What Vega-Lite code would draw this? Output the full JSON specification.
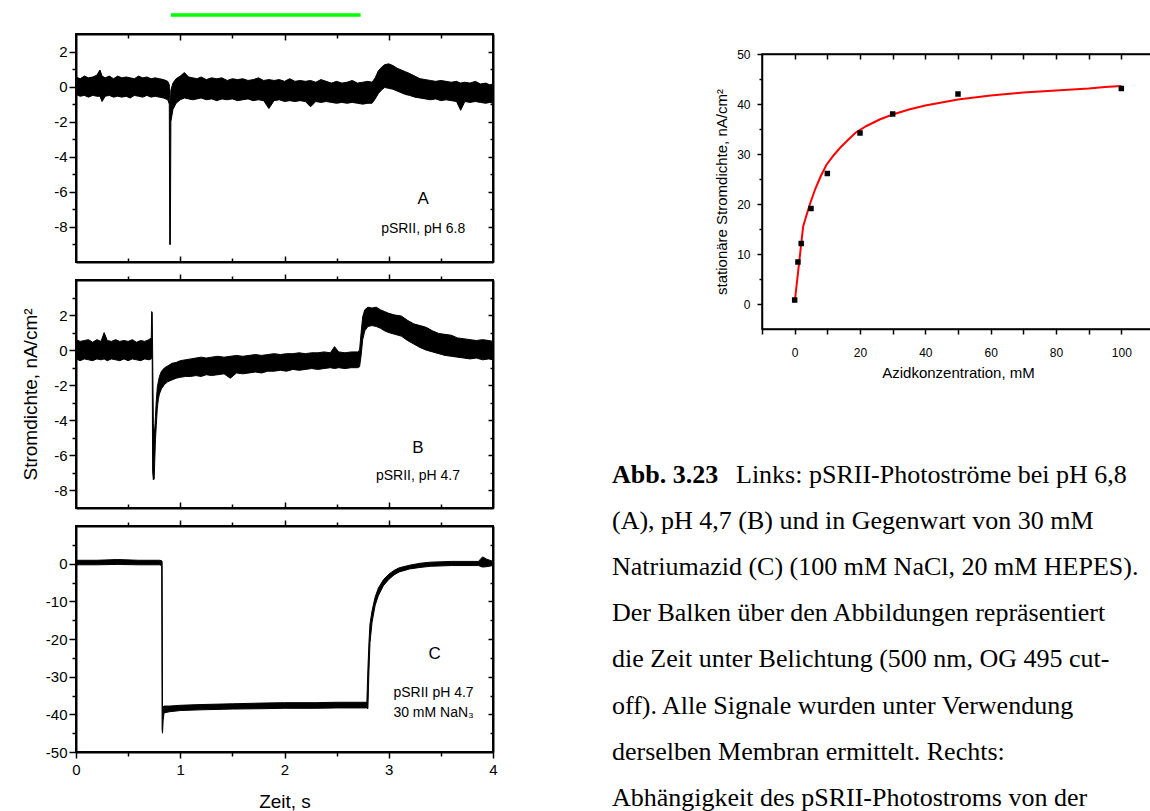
{
  "$schema": "https://vega.github.io/schema/vega-lite/v6.json",
  "background": "white",
  "padding": {"left": 19, "top": 12, "right": 0, "bottom": 0},
  "config": {
    "font": "Liberation Sans",
    "view": {"stroke": "black", "strokeWidth": 2},
    "axis": {"grid": false, "domainColor": "black", "domainWidth": 2, "tickColor": "black", "tickWidth": 1.5, "labelColor": "black", "titleColor": "black", "labelFont": "Liberation Sans", "titleFont": "Liberation Sans", "titleFontWeight": "normal", "labelOverlap": false, "labelFlush": false, "labelBound": false}
  },
  "datasets": {
    "traceA": [
      {"t":0.00,"lo":-0.45,"hi":0.55},{"t":0.04,"lo":-0.55,"hi":0.45},{"t":0.08,"lo":-0.5,"hi":0.6},{"t":0.12,"lo":-0.6,"hi":0.5},{"t":0.16,"lo":-0.5,"hi":0.55},{"t":0.20,"lo":-0.55,"hi":0.65},{"t":0.23,"lo":-0.55,"hi":0.95},{"t":0.25,"lo":-0.85,"hi":0.6},{"t":0.28,"lo":-0.55,"hi":0.5},{"t":0.32,"lo":-0.5,"hi":0.6},{"t":0.36,"lo":-0.6,"hi":0.45},{"t":0.40,"lo":-0.55,"hi":0.6},{"t":0.44,"lo":-0.6,"hi":0.5},{"t":0.48,"lo":-0.55,"hi":0.55},{"t":0.52,"lo":-0.65,"hi":0.5},{"t":0.56,"lo":-0.5,"hi":0.45},{"t":0.60,"lo":-0.55,"hi":0.6},{"t":0.64,"lo":-0.6,"hi":0.5},{"t":0.68,"lo":-0.5,"hi":0.55},{"t":0.72,"lo":-0.6,"hi":0.45},{"t":0.76,"lo":-0.55,"hi":0.5},{"t":0.80,"lo":-0.6,"hi":0.45},{"t":0.84,"lo":-0.65,"hi":0.4},{"t":0.88,"lo":-0.75,"hi":0.3},{"t":0.895,"lo":-1.0,"hi":0.1},{"t":0.899,"lo":-9.0,"hi":-0.8},{"t":0.905,"lo":-9.0,"hi":-1.0},{"t":0.910,"lo":-2.0,"hi":-0.2},{"t":0.93,"lo":-1.3,"hi":0.2},{"t":0.96,"lo":-0.95,"hi":0.45},{"t":1.00,"lo":-0.75,"hi":0.6},{"t":1.04,"lo":-0.65,"hi":0.8},{"t":1.08,"lo":-0.7,"hi":0.55},{"t":1.12,"lo":-0.75,"hi":0.5},{"t":1.16,"lo":-0.7,"hi":0.45},{"t":1.20,"lo":-0.65,"hi":0.55},{"t":1.25,"lo":-0.75,"hi":0.4},{"t":1.30,"lo":-0.7,"hi":0.5},{"t":1.35,"lo":-0.8,"hi":0.45},{"t":1.40,"lo":-0.7,"hi":0.5},{"t":1.45,"lo":-0.75,"hi":0.35},{"t":1.50,"lo":-0.7,"hi":0.45},{"t":1.55,"lo":-0.8,"hi":0.4},{"t":1.60,"lo":-0.75,"hi":0.45},{"t":1.65,"lo":-0.7,"hi":0.35},{"t":1.70,"lo":-0.8,"hi":0.4},{"t":1.75,"lo":-0.75,"hi":0.5},{"t":1.80,"lo":-0.8,"hi":0.35},{"t":1.85,"lo":-1.25,"hi":0.4},{"t":1.90,"lo":-0.8,"hi":0.35},{"t":1.95,"lo":-0.75,"hi":0.4},{"t":2.00,"lo":-0.85,"hi":0.3},{"t":2.05,"lo":-0.8,"hi":0.45},{"t":2.10,"lo":-0.85,"hi":0.3},{"t":2.15,"lo":-0.8,"hi":0.35},{"t":2.20,"lo":-0.85,"hi":0.3},{"t":2.25,"lo":-1.15,"hi":0.35},{"t":2.30,"lo":-0.85,"hi":0.25},{"t":2.35,"lo":-0.9,"hi":0.4},{"t":2.40,"lo":-0.85,"hi":0.3},{"t":2.45,"lo":-0.9,"hi":0.2},{"t":2.50,"lo":-0.95,"hi":0.3},{"t":2.55,"lo":-0.9,"hi":0.2},{"t":2.60,"lo":-0.95,"hi":0.25},{"t":2.65,"lo":-0.9,"hi":0.35},{"t":2.70,"lo":-0.95,"hi":0.2},{"t":2.75,"lo":-1.0,"hi":0.25},{"t":2.80,"lo":-0.95,"hi":0.3},{"t":2.84,"lo":-0.95,"hi":0.25},{"t":2.87,"lo":-0.7,"hi":0.5},{"t":2.90,"lo":-0.4,"hi":0.9},{"t":2.93,"lo":-0.2,"hi":1.1},{"t":2.96,"lo":-0.05,"hi":1.25},{"t":3.00,"lo":-0.1,"hi":1.3},{"t":3.04,"lo":-0.15,"hi":1.2},{"t":3.08,"lo":-0.25,"hi":1.05},{"t":3.12,"lo":-0.35,"hi":0.95},{"t":3.16,"lo":-0.45,"hi":0.85},{"t":3.20,"lo":-0.5,"hi":0.75},{"t":3.25,"lo":-0.6,"hi":0.6},{"t":3.30,"lo":-0.65,"hi":0.45},{"t":3.35,"lo":-0.7,"hi":0.4},{"t":3.40,"lo":-0.75,"hi":0.35},{"t":3.45,"lo":-0.7,"hi":0.3},{"t":3.50,"lo":-0.8,"hi":0.35},{"t":3.55,"lo":-0.75,"hi":0.3},{"t":3.60,"lo":-0.8,"hi":0.25},{"t":3.65,"lo":-0.85,"hi":0.3},{"t":3.69,"lo":-1.35,"hi":0.2},{"t":3.73,"lo":-0.85,"hi":0.25},{"t":3.78,"lo":-0.9,"hi":0.2},{"t":3.83,"lo":-0.85,"hi":0.3},{"t":3.88,"lo":-0.9,"hi":0.15},{"t":3.93,"lo":-0.95,"hi":0.2},{"t":3.97,"lo":-0.9,"hi":0.1},{"t":4.00,"lo":-0.95,"hi":0.15}
    ],
    "traceB": [
      {"t":0.00,"lo":-0.5,"hi":0.6},{"t":0.04,"lo":-0.6,"hi":0.5},{"t":0.08,"lo":-0.5,"hi":0.55},{"t":0.12,"lo":-0.55,"hi":0.6},{"t":0.16,"lo":-0.6,"hi":0.45},{"t":0.20,"lo":-0.5,"hi":0.6},{"t":0.24,"lo":-0.55,"hi":0.5},{"t":0.27,"lo":-0.5,"hi":1.0},{"t":0.30,"lo":-0.6,"hi":0.55},{"t":0.34,"lo":-0.5,"hi":0.5},{"t":0.38,"lo":-0.55,"hi":0.6},{"t":0.42,"lo":-0.6,"hi":0.5},{"t":0.46,"lo":-0.5,"hi":0.55},{"t":0.50,"lo":-0.6,"hi":0.5},{"t":0.54,"lo":-0.5,"hi":0.6},{"t":0.58,"lo":-0.55,"hi":0.45},{"t":0.62,"lo":-0.6,"hi":0.55},{"t":0.66,"lo":-0.5,"hi":0.5},{"t":0.70,"lo":-0.55,"hi":0.6},{"t":0.722,"lo":-0.5,"hi":0.7},{"t":0.726,"lo":-0.4,"hi":2.2},{"t":0.731,"lo":-0.4,"hi":2.15},{"t":0.735,"lo":-6.9,"hi":0.0},{"t":0.742,"lo":-7.4,"hi":-4.2},{"t":0.750,"lo":-7.35,"hi":-4.6},{"t":0.756,"lo":-6.2,"hi":-4.5},{"t":0.762,"lo":-5.1,"hi":-3.8},{"t":0.770,"lo":-4.3,"hi":-2.9},{"t":0.780,"lo":-3.3,"hi":-2.1},{"t":0.790,"lo":-2.8,"hi":-1.8},{"t":0.80,"lo":-2.5,"hi":-1.5},{"t":0.82,"lo":-2.2,"hi":-1.2},{"t":0.85,"lo":-1.95,"hi":-1.0},{"t":0.88,"lo":-1.8,"hi":-0.9},{"t":0.92,"lo":-1.7,"hi":-0.75},{"t":0.96,"lo":-1.6,"hi":-0.7},{"t":1.00,"lo":-1.55,"hi":-0.6},{"t":1.05,"lo":-1.5,"hi":-0.55},{"t":1.10,"lo":-1.5,"hi":-0.5},{"t":1.15,"lo":-1.45,"hi":-0.45},{"t":1.20,"lo":-1.5,"hi":-0.4},{"t":1.25,"lo":-1.4,"hi":-0.45},{"t":1.30,"lo":-1.45,"hi":-0.4},{"t":1.36,"lo":-1.4,"hi":-0.35},{"t":1.42,"lo":-1.35,"hi":-0.4},{"t":1.48,"lo":-1.6,"hi":-0.35},{"t":1.54,"lo":-1.3,"hi":-0.3},{"t":1.60,"lo":-1.35,"hi":-0.35},{"t":1.66,"lo":-1.3,"hi":-0.3},{"t":1.72,"lo":-1.25,"hi":-0.25},{"t":1.78,"lo":-1.3,"hi":-0.3},{"t":1.84,"lo":-1.2,"hi":-0.25},{"t":1.90,"lo":-1.2,"hi":-0.2},{"t":1.96,"lo":-1.15,"hi":-0.25},{"t":2.02,"lo":-1.2,"hi":-0.2},{"t":2.08,"lo":-1.1,"hi":-0.2},{"t":2.14,"lo":-1.15,"hi":-0.15},{"t":2.20,"lo":-1.1,"hi":-0.2},{"t":2.26,"lo":-1.05,"hi":-0.15},{"t":2.32,"lo":-1.1,"hi":-0.15},{"t":2.38,"lo":-1.05,"hi":-0.1},{"t":2.44,"lo":-1.0,"hi":-0.15},{"t":2.48,"lo":-1.05,"hi":0.2},{"t":2.52,"lo":-1.0,"hi":-0.1},{"t":2.58,"lo":-1.05,"hi":-0.15},{"t":2.64,"lo":-1.0,"hi":-0.1},{"t":2.70,"lo":-1.0,"hi":-0.1},{"t":2.72,"lo":-0.95,"hi":0.0},{"t":2.735,"lo":-0.3,"hi":1.0},{"t":2.75,"lo":0.6,"hi":1.9},{"t":2.77,"lo":1.1,"hi":2.3},{"t":2.80,"lo":1.35,"hi":2.45},{"t":2.84,"lo":1.4,"hi":2.4},{"t":2.88,"lo":1.35,"hi":2.45},{"t":2.92,"lo":1.25,"hi":2.3},{"t":2.96,"lo":1.1,"hi":2.2},{"t":3.00,"lo":1.0,"hi":2.1},{"t":3.06,"lo":0.9,"hi":2.0},{"t":3.12,"lo":0.8,"hi":1.95},{"t":3.18,"lo":0.55,"hi":1.7},{"t":3.24,"lo":0.35,"hi":1.5},{"t":3.30,"lo":0.15,"hi":1.4},{"t":3.36,"lo":0.0,"hi":1.3},{"t":3.42,"lo":-0.1,"hi":1.1},{"t":3.48,"lo":-0.2,"hi":0.95},{"t":3.54,"lo":-0.3,"hi":0.9},{"t":3.60,"lo":-0.35,"hi":0.85},{"t":3.66,"lo":-0.4,"hi":0.7},{"t":3.72,"lo":-0.45,"hi":0.65},{"t":3.78,"lo":-0.5,"hi":0.6},{"t":3.84,"lo":-0.45,"hi":0.55},{"t":3.90,"lo":-0.55,"hi":0.6},{"t":3.96,"lo":-0.5,"hi":0.55},{"t":4.00,"lo":-0.55,"hi":0.5}
    ],
    "traceC": [
      {"t":0.00,"lo":-0.3,"hi":0.9},{"t":0.2,"lo":-0.3,"hi":0.9},{"t":0.4,"lo":-0.2,"hi":1.1},{"t":0.6,"lo":-0.3,"hi":0.9},{"t":0.80,"lo":-0.3,"hi":0.9},{"t":0.822,"lo":-0.5,"hi":0.8},{"t":0.826,"lo":-44.0,"hi":0.5},{"t":0.830,"lo":-45.0,"hi":-38.0},{"t":0.836,"lo":-41.5,"hi":-38.0},{"t":0.845,"lo":-39.6,"hi":-37.8},{"t":0.9,"lo":-39.3,"hi":-37.8},{"t":1.0,"lo":-39.0,"hi":-37.6},{"t":1.2,"lo":-38.8,"hi":-37.4},{"t":1.5,"lo":-38.6,"hi":-37.2},{"t":1.8,"lo":-38.5,"hi":-37.0},{"t":2.0,"lo":-38.4,"hi":-36.9},{"t":2.3,"lo":-38.4,"hi":-36.9},{"t":2.5,"lo":-38.3,"hi":-36.8},{"t":2.79,"lo":-38.3,"hi":-36.8},{"t":2.80,"lo":-38.5,"hi":-28.0},{"t":2.81,"lo":-28.5,"hi":-21.0},{"t":2.82,"lo":-21.0,"hi":-16.0},{"t":2.84,"lo":-15.5,"hi":-12.5},{"t":2.87,"lo":-11.0,"hi":-8.8},{"t":2.90,"lo":-8.5,"hi":-6.5},{"t":2.95,"lo":-5.8,"hi":-4.2},{"t":3.00,"lo":-4.2,"hi":-2.8},{"t":3.05,"lo":-3.0,"hi":-1.8},{"t":3.10,"lo":-2.2,"hi":-1.1},{"t":3.20,"lo":-1.4,"hi":-0.4},{"t":3.30,"lo":-1.0,"hi":0.1},{"t":3.40,"lo":-0.7,"hi":0.4},{"t":3.60,"lo":-0.5,"hi":0.6},{"t":3.86,"lo":-0.5,"hi":0.6},{"t":3.90,"lo":-0.9,"hi":1.8},{"t":3.94,"lo":-0.8,"hi":1.2},{"t":4.00,"lo":-0.5,"hi":0.6}
    ],
    "fit": [
      {"c":0,"v":0.3},{"c":2.6,"v":15.5},{"c":4,"v":18.6},{"c":5,"v":20.6},{"c":6.3,"v":23.0},{"c":8,"v":25.6},{"c":9.7,"v":27.8},{"c":12,"v":29.8},{"c":14,"v":31.3},{"c":16,"v":32.6},{"c":18.7,"v":34.3},{"c":22,"v":35.6},{"c":26,"v":36.9},{"c":30,"v":37.9},{"c":35,"v":38.9},{"c":40,"v":39.7},{"c":45,"v":40.3},{"c":50,"v":40.9},{"c":55,"v":41.3},{"c":60,"v":41.7},{"c":65,"v":42.0},{"c":70,"v":42.3},{"c":75,"v":42.5},{"c":80,"v":42.7},{"c":85,"v":42.9},{"c":90,"v":43.1},{"c":95,"v":43.4},{"c":100,"v":43.6}
    ],
    "points": [
      {"c":0,"v":0.8},{"c":1,"v":8.4},{"c":2,"v":12.1},{"c":5,"v":19.1},{"c":10,"v":26.1},{"c":20,"v":34.2},{"c":30,"v":38.0},{"c":50,"v":42.0},{"c":100,"v":43.1}
    ],
    "captionBold": [{"line":1,"text":"Abb. 3.23"}],
    "captionFirst": [{"line":1,"text":"Links: pSRII-Photoströme bei pH 6,8"}],
    "captionRest": [
      {"line":2,"text":"(A), pH 4,7 (B) und in Gegenwart von 30 mM"},
      {"line":3,"text":"Natriumazid (C) (100 mM NaCl, 20 mM HEPES)."},
      {"line":4,"text":"Der Balken über den Abbildungen repräsentiert"},
      {"line":5,"text":"die Zeit unter Belichtung (500 nm, OG 495 cut-"},
      {"line":6,"text":"off). Alle Signale wurden unter Verwendung"},
      {"line":7,"text":"derselben Membran ermittelt. Rechts:"},
      {"line":8,"text":"Abhängigkeit des pSRII-Photostroms von der"}
    ]
  },
  "hconcat": [
    {
      "vconcat": [
        {
          "width": 417, "height": 228,
          "layer": [
            {
              "data": {"name": "traceA"},
              "mark": {"type": "area", "color": "black", "stroke": "black", "strokeWidth": 1, "opacity": 1},
              "encoding": {
                "x": {"field": "t", "type": "quantitative", "scale": {"domain": [0, 4], "nice": false, "zero": false},
                  "axis": {"orient": "bottom", "values": [0.5,1,1.5,2,2.5,3,3.5], "labels": false, "title": null,
                    "tickSize": {"condition": {"test": "datum.value % 1 === 0", "value": -6}, "value": -4}}},
                "y": {"field": "lo", "type": "quantitative", "scale": {"domain": [-10, 3], "nice": false, "zero": false},
                  "axis": {"orient": "left", "values": [-9,-8,-7,-6,-5,-4,-3,-2,-1,0,1,2], "title": null, "labelFontSize": 15, "labelPadding": 2,
                    "labelExpr": "datum.value % 2 === 0 ? '' + datum.value : ''",
                    "tickSize": {"condition": {"test": "datum.value % 2 === 0", "value": 7}, "value": 4}}},
                "y2": {"field": "hi"}
              }
            },
            {
              "data": {"values": [{"x": 3.33, "y": -6.43, "label": "A"}]},
              "mark": {"type": "text", "fontSize": 17, "align": "center", "baseline": "middle", "color": "black"},
              "encoding": {
                "x": {"field": "x", "type": "quantitative", "scale": {"domain": [0, 4], "nice": false, "zero": false},
                  "axis": {"orient": "top", "values": [0.5,1,1.5,2,2.5,3,3.5], "labels": false, "title": null,
                    "tickSize": {"condition": {"test": "datum.value % 1 === 0", "value": -6}, "value": -4}}},
                "y": {"field": "y", "type": "quantitative", "scale": {"domain": [-10, 3], "nice": false, "zero": false},
                  "axis": {"orient": "right", "values": [-9,-8,-7,-6,-5,-4,-3,-2,-1,0,1,2], "labels": false, "title": null,
                    "tickSize": {"condition": {"test": "datum.value % 2 === 0", "value": -5}, "value": -3}}},
                "text": {"field": "label"}
              }
            },
            {
              "data": {"values": [{"x": 3.33, "y": -8.1, "label": "pSRII, pH 6.8"}]},
              "mark": {"type": "text", "fontSize": 14, "align": "center", "baseline": "middle", "color": "black"},
              "encoding": {
                "x": {"field": "x", "type": "quantitative", "scale": {"domain": [0, 4], "nice": false, "zero": false}, "axis": null},
                "y": {"field": "y", "type": "quantitative", "scale": {"domain": [-10, 3], "nice": false, "zero": false}, "axis": null},
                "text": {"field": "label"}
              }
            },
            {
              "data": {"values": [{"start": 0.91, "end": 2.73, "level": 4.08}]},
              "mark": {"type": "rule", "color": "#00ff00", "strokeWidth": 3.5},
              "encoding": {
                "x": {"field": "start", "type": "quantitative", "scale": {"domain": [0, 4], "nice": false, "zero": false}, "axis": null},
                "x2": {"field": "end"},
                "y": {"field": "level", "type": "quantitative", "scale": {"domain": [-10, 3], "nice": false, "zero": false}, "axis": null}
              }
            }
          ],
          "resolve": {"axis": {"x": "independent", "y": "independent"}}
        },
        {
          "width": 417, "height": 228,
          "layer": [
            {
              "data": {"name": "traceB"},
              "mark": {"type": "area", "color": "black", "stroke": "black", "strokeWidth": 1, "opacity": 1},
              "encoding": {
                "x": {"field": "t", "type": "quantitative", "scale": {"domain": [0, 4], "nice": false, "zero": false},
                  "axis": {"orient": "bottom", "values": [0.5,1,1.5,2,2.5,3,3.5], "labels": false, "title": null,
                    "tickSize": {"condition": {"test": "datum.value % 1 === 0", "value": -6}, "value": -4}}},
                "y": {"field": "lo", "type": "quantitative", "scale": {"domain": [-9, 4], "nice": false, "zero": false},
                  "axis": {"orient": "left", "values": [-8,-7,-6,-5,-4,-3,-2,-1,0,1,2,3], "labelFontSize": 15, "labelPadding": 2,
                    "labelExpr": "datum.value % 2 === 0 ? '' + datum.value : ''",
                    "tickSize": {"condition": {"test": "datum.value % 2 === 0", "value": 7}, "value": 4},
                    "title": "Stromdichte, nA/cm²", "titleFontSize": 19, "titleX": -40, "titleBaseline": "alphabetic", "titleAngle": 270}},
                "y2": {"field": "hi"}
              }
            },
            {
              "data": {"values": [{"x": 3.28, "y": -5.56, "label": "B"}]},
              "mark": {"type": "text", "fontSize": 17, "align": "center", "baseline": "middle", "color": "black"},
              "encoding": {
                "x": {"field": "x", "type": "quantitative", "scale": {"domain": [0, 4], "nice": false, "zero": false},
                  "axis": {"orient": "top", "values": [0.5,1,1.5,2,2.5,3,3.5], "labels": false, "title": null,
                    "tickSize": {"condition": {"test": "datum.value % 1 === 0", "value": 6}, "value": 4}}},
                "y": {"field": "y", "type": "quantitative", "scale": {"domain": [-9, 4], "nice": false, "zero": false},
                  "axis": {"orient": "right", "values": [-8,-7,-6,-5,-4,-3,-2,-1,0,1,2,3], "labels": false, "title": null,
                    "tickSize": {"condition": {"test": "datum.value % 2 === 0", "value": -5}, "value": -3}}},
                "text": {"field": "label"}
              }
            },
            {
              "data": {"values": [{"x": 3.28, "y": -7.17, "label": "pSRII, pH 4.7"}]},
              "mark": {"type": "text", "fontSize": 14, "align": "center", "baseline": "middle", "color": "black"},
              "encoding": {
                "x": {"field": "x", "type": "quantitative", "scale": {"domain": [0, 4], "nice": false, "zero": false}, "axis": null},
                "y": {"field": "y", "type": "quantitative", "scale": {"domain": [-9, 4], "nice": false, "zero": false}, "axis": null},
                "text": {"field": "label"}
              }
            }
          ],
          "resolve": {"axis": {"x": "independent", "y": "independent"}}
        },
        {
          "width": 417, "height": 226,
          "layer": [
            {
              "data": {"name": "traceC"},
              "mark": {"type": "area", "color": "black", "stroke": "black", "strokeWidth": 1, "opacity": 1},
              "encoding": {
                "x": {"field": "t", "type": "quantitative", "scale": {"domain": [0, 4], "nice": false, "zero": false},
                  "axis": {"orient": "bottom", "values": [0,0.5,1,1.5,2,2.5,3,3.5,4], "labelFontSize": 15, "labelPadding": 4,
                    "labelExpr": "datum.value % 1 === 0 ? '' + datum.value : ''",
                    "tickSize": {"condition": {"test": "datum.value % 1 === 0", "value": 6}, "value": 4},
                    "title": "Zeit, s", "titleFontSize": 19, "titleY": 55, "titleBaseline": "alphabetic"}},
                "y": {"field": "lo", "type": "quantitative", "scale": {"domain": [-50, 10], "nice": false, "zero": false},
                  "axis": {"orient": "left", "values": [-50,-45,-40,-35,-30,-25,-20,-15,-10,-5,0,5], "title": null, "labelFontSize": 15, "labelPadding": 2,
                    "labelExpr": "datum.value % 10 === 0 ? '' + datum.value : ''",
                    "tickSize": {"condition": {"test": "datum.value % 10 === 0", "value": 7}, "value": 4}}},
                "y2": {"field": "hi"}
              }
            },
            {
              "data": {"values": [{"x": 3.44, "y": -24.0, "label": "C"}]},
              "mark": {"type": "text", "fontSize": 17, "align": "center", "baseline": "middle", "color": "black"},
              "encoding": {
                "x": {"field": "x", "type": "quantitative", "scale": {"domain": [0, 4], "nice": false, "zero": false},
                  "axis": {"orient": "top", "values": [0.5,1,1.5,2,2.5,3,3.5], "labels": false, "title": null,
                    "tickSize": {"condition": {"test": "datum.value % 1 === 0", "value": 6}, "value": 4}}},
                "y": {"field": "y", "type": "quantitative", "scale": {"domain": [-50, 10], "nice": false, "zero": false},
                  "axis": {"orient": "right", "values": [-45,-40,-35,-30,-25,-20,-15,-10,-5,0,5], "labels": false, "title": null,
                    "tickSize": {"condition": {"test": "datum.value % 10 === 0", "value": -5}, "value": -3}}},
                "text": {"field": "label"}
              }
            },
            {
              "data": {"values": [{"x": 3.43, "y": -34.4, "label": "pSRII pH 4.7"}, {"x": 3.43, "y": -39.7, "label": "30 mM NaN₃"}]},
              "mark": {"type": "text", "fontSize": 14, "align": "center", "baseline": "middle", "color": "black"},
              "encoding": {
                "x": {"field": "x", "type": "quantitative", "scale": {"domain": [0, 4], "nice": false, "zero": false}, "axis": null},
                "y": {"field": "y", "type": "quantitative", "scale": {"domain": [-50, 10], "nice": false, "zero": false}, "axis": null},
                "text": {"field": "label"}
              }
            }
          ],
          "resolve": {"axis": {"x": "independent", "y": "independent"}}
        }
      ],
      "spacing": 18,
      "bounds": "flush"
    },
    {
      "vconcat": [
        {
          "width": 10, "height": 2,
          "view": {"stroke": null},
          "data": {"values": [{"k": 1}]},
          "mark": {"type": "text", "text": ""},
          "encoding": {}
        },
        {
          "width": 392, "height": 275,
          "view": {"stroke": "black", "strokeWidth": 1.5},
          "layer": [
            {
              "data": {"name": "fit"},
              "mark": {"type": "line", "color": "#ff0000", "strokeWidth": 2},
              "encoding": {
                "x": {"field": "c", "type": "quantitative", "scale": {"domain": [-10, 110], "nice": false, "zero": false},
                  "axis": {"orient": "bottom", "values": [-10,0,10,20,30,40,50,60,70,80,90,100,110], "labelFontSize": 12, "labelPadding": 13,
                    "labelExpr": "(datum.value % 20 === 0 && datum.value >= 0 && datum.value <= 100) ? '' + datum.value : ''",
                    "tickSize": 5, "domainWidth": 1.5,
                    "title": "Azidkonzentration, mM", "titleFontSize": 15, "titleY": 48, "titleBaseline": "alphabetic"}},
                "y": {"field": "v", "type": "quantitative", "scale": {"domain": [-5, 50], "nice": false, "zero": false},
                  "axis": {"orient": "left", "values": [0,5,10,15,20,25,30,35,40,45,50], "labelFontSize": 12, "labelPadding": 7,
                    "labelExpr": "datum.value % 10 === 0 ? '' + datum.value : ''",
                    "tickSize": {"condition": {"test": "datum.value % 10 === 0", "value": 5}, "value": 3}, "domainWidth": 1.5,
                    "title": "stationäre Stromdichte, nA/cm²", "titleFontSize": 15, "titleX": -36, "titleBaseline": "alphabetic", "titleAngle": 270}}
              }
            },
            {
              "data": {"name": "points"},
              "mark": {"type": "point", "shape": "square", "filled": true, "color": "black", "size": 30, "opacity": 1},
              "encoding": {
                "x": {"field": "c", "type": "quantitative", "scale": {"domain": [-10, 110], "nice": false, "zero": false},
                  "axis": {"orient": "top", "values": [0,10,20,30,40,50,60,70,80,90,100], "labels": false, "title": null, "tickSize": -5, "domainWidth": 1.5}},
                "y": {"field": "v", "type": "quantitative", "scale": {"domain": [-5, 50], "nice": false, "zero": false}, "axis": null}
              }
            }
          ],
          "resolve": {"axis": {"x": "independent", "y": "independent"}}
        },
        {
          "width": 692, "height": 465,
          "view": {"stroke": null},
          "layer": [
            {
              "data": {"name": "captionBold"},
              "mark": {"type": "text", "align": "left", "baseline": "alphabetic", "font": "Liberation Serif", "fontSize": 26, "fontWeight": "bold", "color": "black"},
              "encoding": {
                "x": {"value": 0},
                "y": {"field": "line", "type": "quantitative", "scale": {"domain": [-1.933, 8.132], "reverse": true, "nice": false, "zero": false}, "axis": null},
                "text": {"field": "text"}
              }
            },
            {
              "data": {"name": "captionFirst"},
              "mark": {"type": "text", "align": "left", "baseline": "alphabetic", "font": "Liberation Serif", "fontSize": 26, "color": "black", "dx": 124},
              "encoding": {
                "x": {"value": 0},
                "y": {"field": "line", "type": "quantitative", "scale": {"domain": [-1.933, 8.132], "reverse": true, "nice": false, "zero": false}, "axis": null},
                "text": {"field": "text"}
              }
            },
            {
              "data": {"name": "captionRest"},
              "mark": {"type": "text", "align": "left", "baseline": "alphabetic", "font": "Liberation Serif", "fontSize": 26, "color": "black"},
              "encoding": {
                "x": {"value": 0},
                "y": {"field": "line", "type": "quantitative", "scale": {"domain": [-1.933, 8.132], "reverse": true, "nice": false, "zero": false}, "axis": null},
                "text": {"field": "text"}
              }
            }
          ]
        }
      ],
      "spacing": 18,
      "bounds": "flush",
      "center": true
    }
  ],
  "spacing": 113
}
